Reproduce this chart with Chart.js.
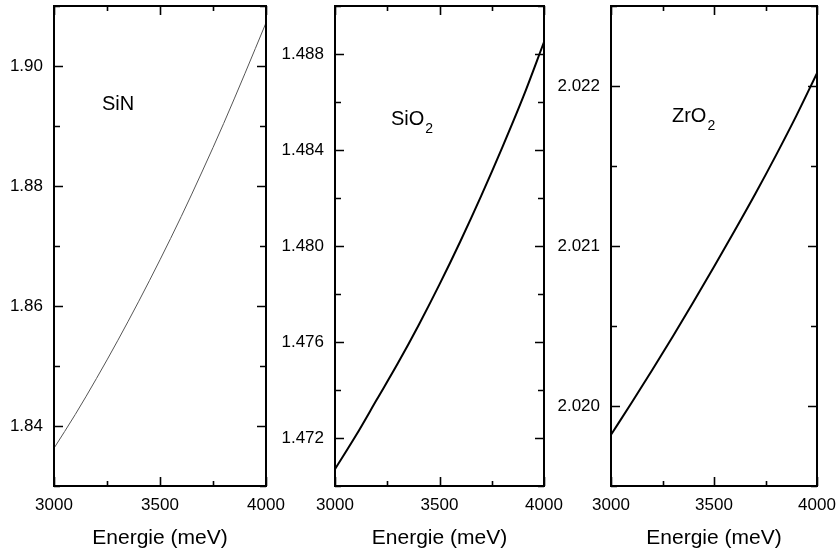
<!DOCTYPE html>
<html><head><meta charset="utf-8">
<script src="https://cdn.jsdelivr.net/npm/chart.js@4"></script>
<style>
html,body{margin:0;padding:0;background:#fff;}
#wrap{position:relative;width:838px;height:553px;background:#fff;}
canvas{position:absolute;left:0;top:0;}
</style></head><body>
<div id="wrap">
<canvas id="c1" width="838" height="553"></canvas>
<canvas id="c2" width="838" height="553"></canvas>
<canvas id="c3" width="838" height="553"></canvas>
</div>
<script>
// ---- data ----
const energies = [3000, 3100, 3200, 3300, 3400, 3500, 3600, 3700, 3800, 3900, 4000];
const sinIndex  = [1.8363, 1.8419, 1.8479, 1.8542, 1.8608, 1.8677, 1.8749, 1.8825, 1.8904, 1.8987, 1.9072];
const sio2Index = [1.4707, 1.4721, 1.4736, 1.4751, 1.4767, 1.4784, 1.4802, 1.4821, 1.4841, 1.4862, 1.4885];
const zro2Index = [2.01982, 2.02002, 2.020225, 2.020435, 2.02065, 2.02087, 2.021095, 2.021325, 2.021565, 2.021815, 2.02208];
const materialNames = ['SiN', 'SiO', 'ZrO'];
const materialSubs  = ['', '2', '2'];
const xAxisTitle = 'Energie (meV)';
const xRange = [3000, 4000];
const yRanges = [[1.83, 1.91], [1.470, 1.490], [2.0195, 2.0225]];
const yMinorSteps = [0.01, 0.002, 0.0005];
const yMajorSteps = [0.02, 0.004, 0.001];
const yDecimals = [2, 3, 3];
const xMinorStep = 250, xMajorStep = 500;

const FONT = '"Liberation Sans", Arial, sans-serif';
const isMult = (v, s) => Math.abs(v / s - Math.round(v / s)) < 1e-6;

const framePlugin = {
  id: 'frame',
  afterDatasetsDraw(chart, args, o) {
    const {ctx, chartArea: a, scales: {x, y}} = chart;
    ctx.save();
    ctx.strokeStyle = '#000';
    ctx.lineWidth = 1.6;
    ctx.beginPath();
    x.ticks.forEach(t => {
      const px = Math.round(x.getPixelForValue(t.value)) + 0.5;
      const len = isMult(t.value, o.xMajor) ? 9 : 5;
      ctx.moveTo(px, a.bottom); ctx.lineTo(px, a.bottom - len);
      ctx.moveTo(px, a.top); ctx.lineTo(px, a.top + len);
    });
    y.ticks.forEach(t => {
      const py = Math.round(y.getPixelForValue(t.value)) + 0.5;
      const len = isMult(t.value, o.yMajor) ? 9 : 6;
      ctx.moveTo(a.left, py); ctx.lineTo(a.left + len, py);
      ctx.moveTo(a.right, py); ctx.lineTo(a.right - len, py);
    });
    ctx.stroke();
    ctx.lineWidth = 2;
    ctx.strokeRect(a.left, a.top, a.right - a.left, a.bottom - a.top);
    // material label
    const lx = x.getPixelForValue(o.labelX), ly = y.getPixelForValue(o.labelY);
    ctx.fillStyle = '#000';
    ctx.textBaseline = 'alphabetic';
    ctx.textAlign = 'left';
    ctx.font = '20px ' + FONT;
    ctx.fillText(o.name, lx, ly);
    if (o.sub) {
      const w = ctx.measureText(o.name).width;
      ctx.font = '14px ' + FONT;
      ctx.fillText(o.sub, lx + w + 1, ly + 8);
    }
    ctx.restore();
  }
};

function makeChart(id, idx, values, geom, lineStyle, labelPos) {
  const [ymin, ymax] = yRanges[idx];
  new Chart(document.getElementById(id), {
    type: 'line',
    data: {
      datasets: [{
        data: energies.map((e, i) => ({x: e, y: values[i]})),
        borderColor: lineStyle.color,
        borderWidth: lineStyle.width,
        pointRadius: 0,
        fill: false,
        cubicInterpolationMode: 'monotone'
      }]
    },
    options: {
      responsive: false,
      animation: false,
      events: [],
      layout: {padding: {left: geom.padLeft, right: geom.padRight, top: 6, bottom: 0}},
      plugins: {
        legend: {display: false},
        tooltip: {enabled: false},
        frame: {
          xMajor: xMajorStep, yMajor: yMajorSteps[idx],
          labelX: labelPos[0], labelY: labelPos[1],
          name: materialNames[idx], sub: materialSubs[idx]
        }
      },
      scales: {
        x: {
          type: 'linear', min: xRange[0], max: xRange[1],
          grid: {display: false, drawTicks: false},
          border: {display: false},
          ticks: {
            stepSize: xMinorStep, autoSkip: false, maxRotation: 0, padding: 9,
            color: '#000', font: {family: FONT, size: 17},
            callback: v => isMult(v, xMajorStep) ? String(v) : ''
          },
          title: {display: true, text: xAxisTitle, color: '#000',
                  font: {family: FONT, size: 21}, padding: {top: 0, bottom: 2}},
          afterFit: s => { s.height = 67; s.paddingLeft = 0; s.paddingRight = 0; }
        },
        y: {
          type: 'linear', min: ymin, max: ymax,
          grid: {display: false, drawTicks: false},
          border: {display: false},
          ticks: {
            stepSize: yMinorSteps[idx], autoSkip: false, padding: 11,
            color: '#000', font: {family: FONT, size: 17},
            callback: v => isMult(v, yMajorSteps[idx]) ? v.toFixed(yDecimals[idx]) : ''
          },
          afterFit: s => { s.width = geom.yWidth; s.paddingTop = 0; s.paddingBottom = 0; }
        }
      }
    },
    plugins: [framePlugin]
  });
}

makeChart('c1', 0, sinIndex,  {padLeft: 0,   yWidth: 54, padRight: 572}, {color: '#555', width: 1}, [3226, 1.8927]);
makeChart('c2', 1, sio2Index, {padLeft: 275, yWidth: 60, padRight: 294}, {color: '#000', width: 2}, [3268, 1.48504]);
makeChart('c3', 2, zro2Index, {padLeft: 549, yWidth: 62, padRight: 21},  {color: '#000', width: 2}, [3296, 2.021774]);
</script>
</body></html>
